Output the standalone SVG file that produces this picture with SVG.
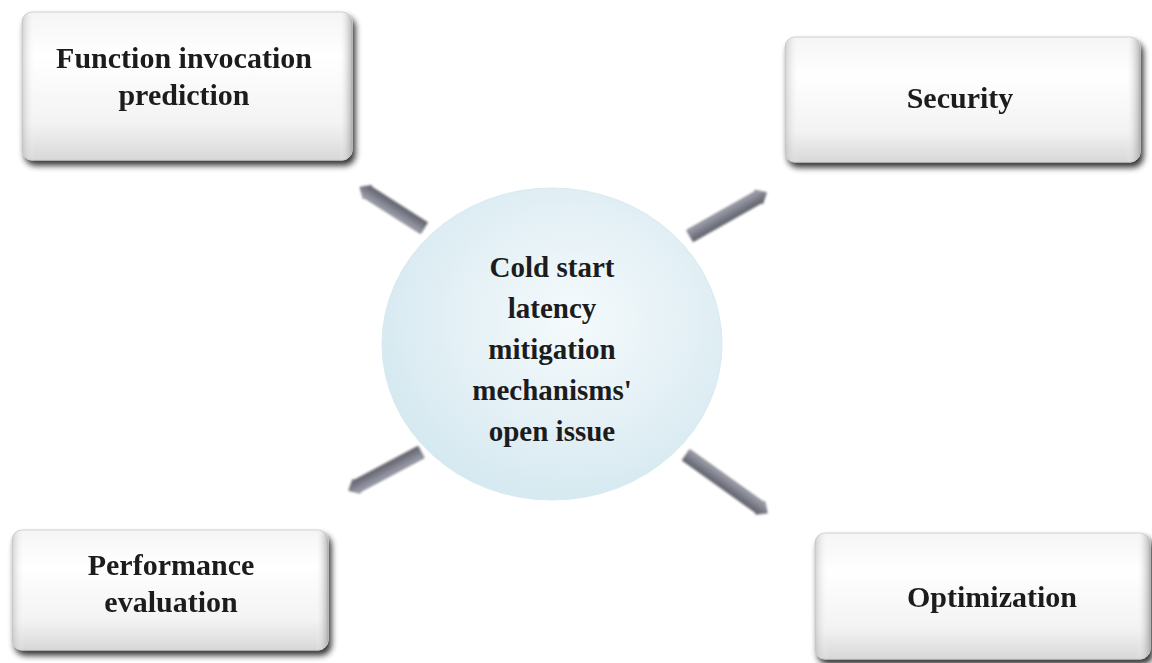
<svg xmlns="http://www.w3.org/2000/svg" width="1152" height="663" viewBox="0 0 1152 663">
  <defs>
    <linearGradient id="boxFill" x1="0" y1="0" x2="0" y2="1">
      <stop offset="0" stop-color="#f5f5f5"/>
      <stop offset="0.3" stop-color="#ffffff"/>
      <stop offset="0.75" stop-color="#f3f3f3"/>
      <stop offset="1" stop-color="#d8d8d8"/>
    </linearGradient>
    <linearGradient id="boxSide" x1="0" y1="0" x2="1" y2="0">
      <stop offset="0" stop-color="#b5b5b5" stop-opacity="0.6"/>
      <stop offset="0.04" stop-color="#ffffff" stop-opacity="0"/>
      <stop offset="0.96" stop-color="#ffffff" stop-opacity="0"/>
      <stop offset="1" stop-color="#9f9f9f" stop-opacity="0.75"/>
    </linearGradient>
    <radialGradient id="hubFill" cx="0.56" cy="0.42" r="0.6">
      <stop offset="0" stop-color="#f5fafc"/>
      <stop offset="0.6" stop-color="#e3f0f5"/>
      <stop offset="1" stop-color="#d5e9f0"/>
    </radialGradient>
    <linearGradient id="arrowFill" x1="0" y1="0" x2="0" y2="1">
      <stop offset="0" stop-color="#a8aab6"/>
      <stop offset="0.4" stop-color="#868894"/>
      <stop offset="1" stop-color="#5a5c66"/>
    </linearGradient>
    <filter id="boxShadow" x="-10%" y="-10%" width="125%" height="135%">
      <feGaussianBlur in="SourceAlpha" stdDeviation="3"/>
      <feOffset dx="3" dy="5" result="blur"/>
      <feComponentTransfer><feFuncA type="linear" slope="0.8"/></feComponentTransfer>
      <feMerge><feMergeNode/><feMergeNode in="SourceGraphic"/></feMerge>
    </filter>
    <filter id="soft" x="-20%" y="-20%" width="140%" height="140%">
      <feGaussianBlur stdDeviation="0.9"/>
    </filter>
  </defs>
  <style>
    .box { fill: url(#boxFill); stroke: #cfcfcf; stroke-width: 1; }
    .side { fill: url(#boxSide); }
    .label { font-family: "Liberation Serif", "Times New Roman", serif; font-weight: bold; font-size: 30px; fill: #1c1c1c; text-anchor: middle; }
    .hub-label { font-size: 29px; }
    .arrow { fill: url(#arrowFill); stroke: #5c5e68; stroke-width: 0.8; filter: url(#soft); }
  </style>

  <rect width="1152" height="663" fill="#ffffff"/>

  <!-- connectors: block arrows from the hub outwards -->
  <g id="connectors">
    <g transform="translate(424,228) rotate(212.5)">
      <path class="arrow" d="M0,-6.5 L67,-6.5 L67,-8 L76,0 L67,8 L67,6.5 L0,6.5 Z"/>
    </g>
    <g transform="translate(690,236) rotate(-29.5)">
      <path class="arrow" d="M0,-6.5 L79,-6.5 L79,-8 L88,0 L79,8 L79,6.5 L0,6.5 Z"/>
    </g>
    <g transform="translate(421,452) rotate(152)">
      <path class="arrow" d="M0,-6.5 L73,-6.5 L73,-8 L82,0 L73,8 L73,6.5 L0,6.5 Z"/>
    </g>
    <g transform="translate(686,455) rotate(35.5)">
      <path class="arrow" d="M0,-6.5 L91,-6.5 L91,-8 L100,0 L91,8 L91,6.5 L0,6.5 Z"/>
    </g>
  </g>

  <!-- central issue -->
  <g id="hub">
    <ellipse cx="552" cy="344" rx="170" ry="156" fill="url(#hubFill)" stroke="#d8eaf0" stroke-width="1"/>
    <text class="label hub-label" x="552" y="277">Cold start</text>
    <text class="label hub-label" x="552" y="318">latency</text>
    <text class="label hub-label" x="552" y="359">mitigation</text>
    <text class="label hub-label" x="552" y="400">mechanisms'</text>
    <text class="label hub-label" x="552" y="441">open issue</text>
  </g>

  <g id="node-prediction" filter="url(#boxShadow)">
    <rect class="box" x="22" y="12" width="330" height="148" rx="10"/>
    <rect class="side" x="22" y="12" width="330" height="148" rx="10"/>
    <text class="label" x="184" y="68">Function invocation</text>
    <text class="label" x="184" y="105">prediction</text>
  </g>

  <g id="node-security" filter="url(#boxShadow)">
    <rect class="box" x="785" y="37" width="355" height="125" rx="10"/>
    <rect class="side" x="785" y="37" width="355" height="125" rx="10"/>
    <text class="label" x="960" y="108">Security</text>
  </g>

  <g id="node-performance" filter="url(#boxShadow)">
    <rect class="box" x="12" y="530" width="316" height="120" rx="10"/>
    <rect class="side" x="12" y="530" width="316" height="120" rx="10"/>
    <text class="label" x="171" y="575">Performance</text>
    <text class="label" x="171" y="612">evaluation</text>
  </g>

  <g id="node-optimization" filter="url(#boxShadow)">
    <rect class="box" x="815" y="533" width="335" height="126" rx="10"/>
    <rect class="side" x="815" y="533" width="335" height="126" rx="10"/>
    <text class="label" x="992" y="607">Optimization</text>
  </g>
</svg>
